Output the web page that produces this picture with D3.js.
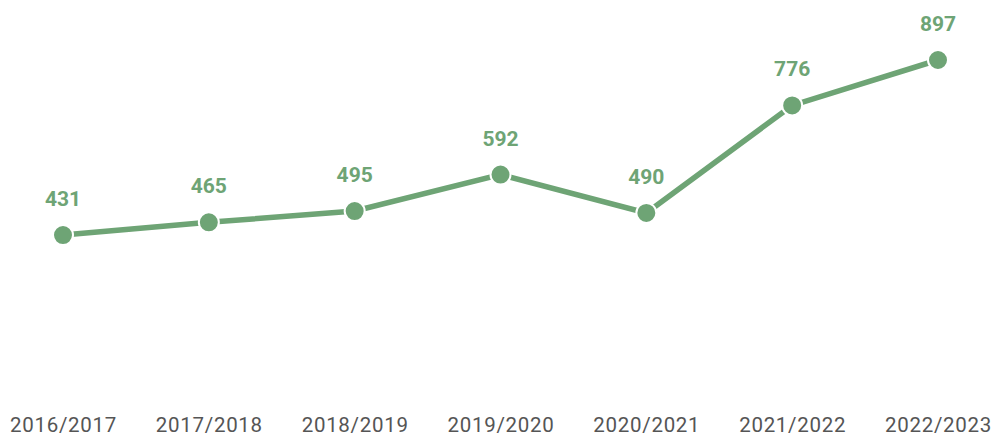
<!DOCTYPE html>
<html><head><meta charset="utf-8">
<script src="https://cdn.jsdelivr.net/npm/d3@7"></script>
<style>body{margin:0;background:#fff}svg{display:block}</style>
</head><body>
<svg id="c" width="996" height="434"></svg>
<script>
const categories = ["2016/2017","2017/2018","2018/2019","2019/2020","2020/2021","2021/2022","2022/2023"];
const values = [431,465,495,592,490,776,897];

const svg = d3.select("#c");
const x = d3.scalePoint().domain(categories).range([63, 938]);
const y = d3.scaleLinear().domain([0, 897]).range([397, 60]);
const green = "#6ea475";

const xAxis = d3.axisBottom(x).tickSize(0).tickPadding(0);
const ax = svg.append("g").attr("transform","translate(0,417)").call(xAxis);
ax.select(".domain").remove();
ax.selectAll("text").attr("font-family","Roboto, sans-serif").attr("font-size",20.5)
  .attr("letter-spacing","0.7px")
  .attr("fill","#555").attr("dy","0.71em").attr("y",0);

const data = categories.map((c,i)=>({c, v: values[i]}));
svg.append("path").datum(data)
  .attr("fill","none").attr("stroke",green).attr("stroke-width",5.5)
  .attr("d", d3.line().x(d=>x(d.c)).y(d=>y(d.v)));
svg.selectAll("circle.pt").data(data).join("circle")
  .attr("cx",d=>x(d.c)).attr("cy",d=>y(d.v)).attr("r",10)
  .attr("fill",green).attr("stroke","#fff").attr("stroke-width",2);
svg.selectAll("text.lbl").data(data).join("text")
  .attr("x",d=>x(d.c)).attr("y",d=>y(d.v)-29)
  .attr("text-anchor","middle").attr("font-family","Roboto, sans-serif")
  .attr("font-weight","bold").attr("font-size",21).attr("fill",green)
  .text(d=>d.v);
</script>
</body></html>
